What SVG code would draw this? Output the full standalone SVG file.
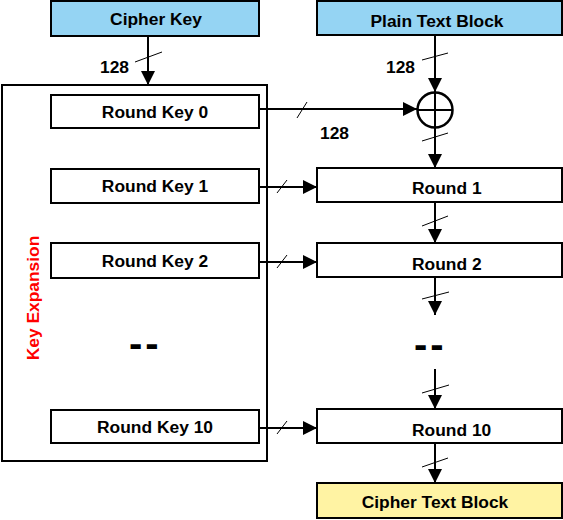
<svg xmlns="http://www.w3.org/2000/svg" width="563" height="520" viewBox="0 0 563 520">
<defs>
<style>
.box{fill:#ffffff;stroke:#000;stroke-width:2}
.blue{fill:#95d4f3}
.yellow{fill:#fff3a3}
.lbl{font-family:"Liberation Sans",Arial,sans-serif;font-weight:bold;font-size:17.4px;fill:#000}
.red{fill:#ff0000}
.dash{font-family:"Liberation Sans",Arial,sans-serif;font-weight:bold;font-size:40px;letter-spacing:3px;fill:#000}
.conn{stroke:#000;stroke-width:2;fill:none}
.slash{stroke:#000;stroke-width:1;fill:none}
</style>
<marker id="arr" markerUnits="userSpaceOnUse" markerWidth="14" markerHeight="14" refX="14" refY="7" orient="auto">
<path d="M0,0 L14,7 L0,14 z" fill="#000"/>
</marker>
</defs>
<rect width="563" height="520" fill="#ffffff"/>

<g id="key-expansion">
<rect x="2" y="85" width="265" height="376" fill="none" stroke="#000" stroke-width="2"/>
<text class="lbl red" transform="translate(39,298) rotate(-90)" text-anchor="middle">Key Expansion</text>
</g>

<g id="cipher-key">
<rect class="box blue" x="51" y="1" width="208" height="35"/>
<text class="lbl" x="156" y="25" text-anchor="middle">Cipher Key</text>
</g>
<g id="plain-text-block">
<rect class="box blue" x="317" y="1" width="245" height="34"/>
<text class="lbl" x="437" y="27" text-anchor="middle">Plain Text Block</text>
</g>
<g id="round-key-0">
<rect class="box" x="51" y="95" width="208" height="33"/>
<text class="lbl" x="155" y="118" text-anchor="middle">Round Key 0</text>
</g>
<g id="round-key-1">
<rect class="box" x="51" y="169" width="208" height="34"/>
<text class="lbl" x="155" y="192" text-anchor="middle">Round Key 1</text>
</g>
<g id="round-key-2">
<rect class="box" x="51" y="243" width="208" height="35"/>
<text class="lbl" x="155" y="267" text-anchor="middle">Round Key 2</text>
</g>
<g id="round-key-10">
<rect class="box" x="51" y="410" width="208" height="33"/>
<text class="lbl" x="155" y="433" text-anchor="middle">Round Key 10</text>
</g>
<g id="xor">
<circle cx="435" cy="110" r="17.5" fill="#fff" stroke="#000" stroke-width="2.5"/>
<line x1="417.5" y1="110" x2="452.5" y2="110" stroke="#000" stroke-width="2"/>
<line x1="435" y1="92.5" x2="435" y2="127.5" stroke="#000" stroke-width="2"/>
</g>
<g id="round-1">
<rect class="box" x="317" y="168" width="245" height="34"/>
<text class="lbl" x="412" y="194">Round 1</text>
</g>
<g id="round-2">
<rect class="box" x="317" y="243" width="245" height="34"/>
<text class="lbl" x="412" y="270">Round 2</text>
</g>
<g id="round-10">
<rect class="box" x="317" y="409" width="245" height="34"/>
<text class="lbl" x="412" y="436">Round 10</text>
</g>
<g id="cipher-text-block">
<rect class="box yellow" x="317" y="483" width="245" height="35"/>
<text class="lbl" x="435" y="508" text-anchor="middle">Cipher Text Block</text>
</g>
<g id="ellipsis-left">
<text class="dash" x="129" y="357">--</text>
</g>
<g id="ellipsis-right">
<text class="dash" x="414" y="358">--</text>
</g>

<g id="connectors">
<line class="conn" x1="148" y1="36" x2="148" y2="85" marker-end="url(#arr)"/>
<line class="slash" x1="135" y1="62" x2="162" y2="52"/>
<text class="lbl" x="100" y="73">128</text>

<line class="conn" x1="435" y1="35" x2="435" y2="92" marker-end="url(#arr)"/>
<line class="slash" x1="422" y1="60" x2="448" y2="53"/>
<text class="lbl" x="386" y="73">128</text>

<line class="conn" x1="259" y1="109" x2="417" y2="109" marker-end="url(#arr)"/>
<line class="slash" x1="297" y1="118" x2="307" y2="102"/>
<text class="lbl" x="320" y="139">128</text>

<line class="conn" x1="435" y1="128" x2="435" y2="168" marker-end="url(#arr)"/>
<line class="slash" x1="422" y1="141" x2="448" y2="133"/>

<line class="conn" x1="259" y1="187" x2="317" y2="187" marker-end="url(#arr)"/>
<line class="slash" x1="277" y1="193" x2="287" y2="180"/>

<line class="conn" x1="435" y1="202" x2="435" y2="243" marker-end="url(#arr)"/>
<line class="slash" x1="422" y1="226" x2="448" y2="216"/>

<line class="conn" x1="259" y1="262" x2="317" y2="262" marker-end="url(#arr)"/>
<line class="slash" x1="277" y1="268" x2="287" y2="255"/>

<line class="conn" x1="435" y1="277" x2="435" y2="315" marker-end="url(#arr)"/>
<line class="slash" x1="422" y1="299" x2="449" y2="292"/>

<line class="conn" x1="435" y1="369" x2="435" y2="409" marker-end="url(#arr)"/>
<line class="slash" x1="422" y1="393" x2="449" y2="385"/>

<line class="conn" x1="259" y1="428" x2="317" y2="428" marker-end="url(#arr)"/>
<line class="slash" x1="277" y1="434" x2="287" y2="421"/>

<line class="conn" x1="435" y1="443" x2="435" y2="483" marker-end="url(#arr)"/>
<line class="slash" x1="422" y1="467" x2="448" y2="458"/>
</g>
</svg>
